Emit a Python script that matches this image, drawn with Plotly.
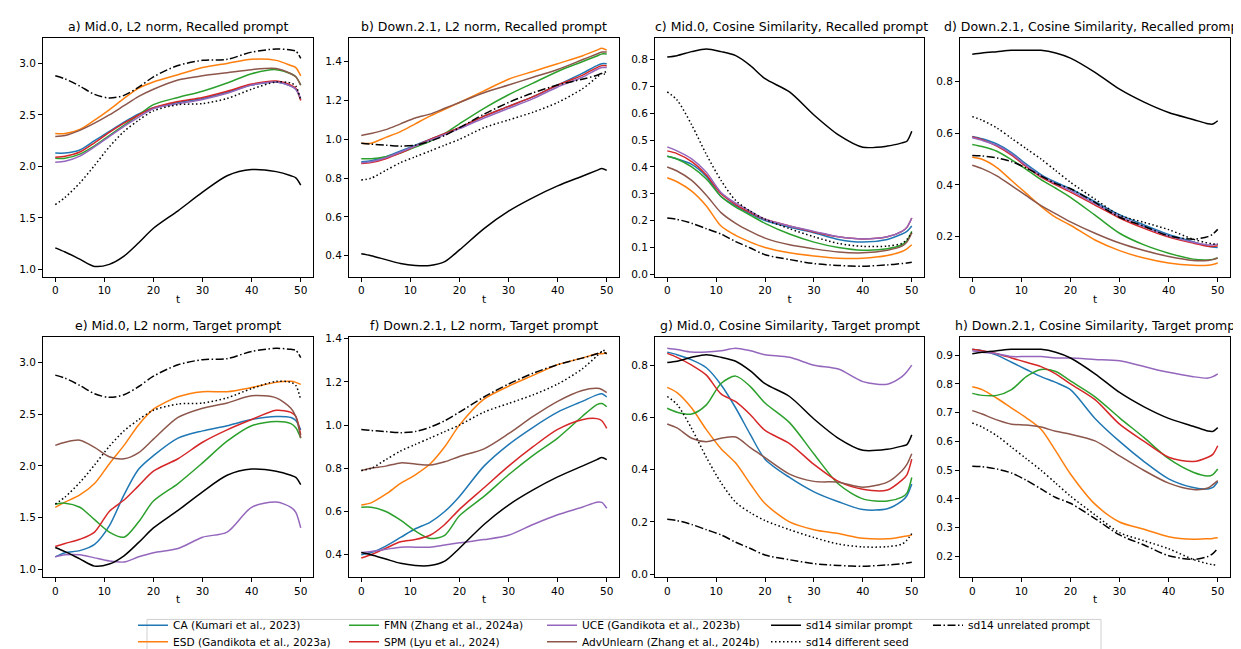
import plotly.graph_objects as go

# ---------------- data ----------------
T = [0, 2, 5, 8, 11, 14, 17, 20, 25, 30, 35, 40, 45, 48, 49, 50]

# Panel a) Mid.0, L2 norm, Recalled prompt
A_CA = [2.13, 2.13, 2.16, 2.25, 2.34, 2.43, 2.51, 2.57, 2.62, 2.66, 2.72, 2.79, 2.82, 2.78, 2.75, 2.65]
A_ESD = [2.32, 2.32, 2.36, 2.45, 2.55, 2.66, 2.76, 2.82, 2.89, 2.96, 3.00, 3.04, 3.03, 2.98, 2.96, 2.88]
A_FMN = [2.08, 2.08, 2.12, 2.20, 2.30, 2.40, 2.50, 2.60, 2.67, 2.73, 2.81, 2.90, 2.94, 2.90, 2.87, 2.79]
A_SPM = [2.09, 2.10, 2.14, 2.23, 2.33, 2.42, 2.50, 2.57, 2.63, 2.67, 2.73, 2.80, 2.83, 2.79, 2.76, 2.64]
A_UCE = [2.04, 2.05, 2.10, 2.19, 2.29, 2.39, 2.48, 2.56, 2.61, 2.65, 2.71, 2.79, 2.82, 2.78, 2.75, 2.66]
A_ADV = [2.29, 2.30, 2.35, 2.42, 2.50, 2.59, 2.68, 2.75, 2.84, 2.88, 2.91, 2.94, 2.95, 2.90, 2.87, 2.79]

# Panel e) Mid.0, L2 norm, Target prompt
E_CA = [1.12, 1.16, 1.18, 1.24, 1.42, 1.72, 1.97, 2.10, 2.27, 2.34, 2.39, 2.45, 2.48, 2.47, 2.44, 2.35]
E_ESD = [1.60, 1.65, 1.72, 1.83, 2.02, 2.20, 2.40, 2.55, 2.67, 2.72, 2.72, 2.76, 2.81, 2.82, 2.81, 2.79]
E_FMN = [1.63, 1.64, 1.60, 1.48, 1.36, 1.31, 1.46, 1.66, 1.83, 2.03, 2.24, 2.39, 2.43, 2.41, 2.37, 2.27]
E_SPM = [1.22, 1.25, 1.29, 1.36, 1.56, 1.67, 1.81, 1.95, 2.07, 2.23, 2.35, 2.45, 2.54, 2.52, 2.48, 2.30]
E_UCE = [1.12, 1.14, 1.14, 1.11, 1.08, 1.07, 1.12, 1.16, 1.20, 1.31, 1.36, 1.60, 1.65, 1.60, 1.55, 1.40]
E_ADV = [2.20, 2.23, 2.25, 2.18, 2.09, 2.07, 2.13, 2.26, 2.47, 2.56, 2.61, 2.68, 2.66, 2.56, 2.48, 2.27]

# Mid.0 L2 baselines
M_SIM = [1.21, 1.17, 1.10, 1.03, 1.05, 1.13, 1.26, 1.40, 1.57, 1.75, 1.91, 1.97, 1.95, 1.91, 1.89, 1.82]
M_DIFF = [1.63, 1.70, 1.84, 2.01, 2.19, 2.34, 2.45, 2.54, 2.60, 2.61, 2.66, 2.75, 2.82, 2.81, 2.78, 2.64]
M_UNREL = [2.88, 2.85, 2.78, 2.70, 2.665, 2.69, 2.77, 2.87, 2.98, 3.03, 3.04, 3.11, 3.14, 3.13, 3.12, 3.05]

# Panel b) Down.2.1, L2 norm, Recalled prompt
B_CA = [0.885, 0.89, 0.91, 0.94, 0.97, 1.00, 1.03, 1.06, 1.12, 1.17, 1.22, 1.28, 1.34, 1.38, 1.39, 1.39]
B_ESD = [0.98, 0.98, 1.01, 1.04, 1.08, 1.12, 1.155, 1.19, 1.25, 1.31, 1.35, 1.39, 1.43, 1.46, 1.47, 1.46]
B_FMN = [0.90, 0.90, 0.91, 0.93, 0.96, 0.99, 1.03, 1.08, 1.16, 1.23, 1.29, 1.35, 1.40, 1.43, 1.44, 1.44]
B_SPM = [0.875, 0.88, 0.90, 0.93, 0.965, 1.00, 1.03, 1.06, 1.12, 1.17, 1.22, 1.28, 1.33, 1.37, 1.38, 1.38]
B_UCE = [0.88, 0.885, 0.905, 0.935, 0.965, 0.995, 1.025, 1.055, 1.11, 1.16, 1.21, 1.27, 1.32, 1.36, 1.37, 1.37]
B_ADV = [1.02, 1.03, 1.05, 1.08, 1.11, 1.13, 1.16, 1.19, 1.24, 1.28, 1.32, 1.36, 1.41, 1.44, 1.45, 1.45]

# Panel f) Down.2.1, L2 norm, Target prompt
F_CA = [0.40, 0.41, 0.44, 0.48, 0.52, 0.55, 0.60, 0.67, 0.81, 0.91, 0.99, 1.06, 1.11, 1.14, 1.145, 1.13]
F_ESD = [0.63, 0.64, 0.68, 0.73, 0.77, 0.82, 0.90, 1.00, 1.12, 1.18, 1.23, 1.28, 1.31, 1.33, 1.33, 1.335]
F_FMN = [0.62, 0.62, 0.60, 0.56, 0.51, 0.475, 0.49, 0.58, 0.67, 0.77, 0.86, 0.94, 1.04, 1.095, 1.10, 1.085]
F_SPM = [0.385, 0.40, 0.43, 0.46, 0.47, 0.49, 0.54, 0.61, 0.71, 0.81, 0.90, 0.98, 1.025, 1.03, 1.02, 0.985]
F_UCE = [0.41, 0.415, 0.425, 0.435, 0.435, 0.435, 0.445, 0.455, 0.47, 0.49, 0.54, 0.585, 0.62, 0.643, 0.642, 0.615]
F_ADV = [0.79, 0.80, 0.81, 0.825, 0.82, 0.815, 0.83, 0.855, 0.89, 0.96, 1.04, 1.11, 1.16, 1.17, 1.165, 1.15]

# Down.2.1 L2 baselines
D_SIM = [0.41, 0.40, 0.38, 0.36, 0.35, 0.35, 0.37, 0.43, 0.54, 0.63, 0.70, 0.76, 0.81, 0.84, 0.85, 0.84]
D_DIFF = [0.79, 0.80, 0.84, 0.88, 0.91, 0.94, 0.97, 1.00, 1.06, 1.10, 1.14, 1.19, 1.26, 1.32, 1.34, 1.35]
D_UNREL = [0.98, 0.975, 0.97, 0.965, 0.97, 0.99, 1.02, 1.06, 1.13, 1.19, 1.24, 1.28, 1.31, 1.33, 1.34, 1.33]

# Panel c) Mid.0, Cosine Similarity, Recalled prompt
C_CA = [0.44, 0.43, 0.41, 0.365, 0.29, 0.255, 0.225, 0.20, 0.175, 0.155, 0.13, 0.12, 0.13, 0.15, 0.16, 0.18]
C_ESD = [0.36, 0.345, 0.31, 0.255, 0.18, 0.145, 0.12, 0.10, 0.08, 0.068, 0.06, 0.06, 0.07, 0.085, 0.095, 0.11]
C_FMN = [0.44, 0.43, 0.40, 0.355, 0.29, 0.25, 0.22, 0.19, 0.15, 0.12, 0.10, 0.09, 0.095, 0.11, 0.125, 0.16]
C_SPM = [0.46, 0.45, 0.42, 0.37, 0.30, 0.26, 0.23, 0.205, 0.18, 0.158, 0.14, 0.132, 0.14, 0.16, 0.175, 0.21]
C_UCE = [0.475, 0.46, 0.43, 0.38, 0.305, 0.265, 0.235, 0.205, 0.18, 0.16, 0.14, 0.132, 0.14, 0.16, 0.175, 0.21]
C_ADV = [0.40, 0.385, 0.35, 0.295, 0.23, 0.19, 0.16, 0.135, 0.11, 0.095, 0.083, 0.08, 0.09, 0.105, 0.12, 0.155]

# Panel g) Mid.0, Cosine Similarity, Target prompt
G_CA = [0.85, 0.84, 0.82, 0.79, 0.725, 0.636, 0.534, 0.44, 0.37, 0.315, 0.277, 0.247, 0.25, 0.28, 0.30, 0.345]
G_ESD = [0.715, 0.695, 0.636, 0.553, 0.48, 0.425, 0.345, 0.27, 0.20, 0.17, 0.155, 0.137, 0.135, 0.143, 0.146, 0.15]
G_FMN = [0.635, 0.62, 0.613, 0.648, 0.73, 0.758, 0.718, 0.655, 0.58, 0.46, 0.345, 0.288, 0.28, 0.295, 0.31, 0.37]
G_SPM = [0.845, 0.83, 0.80, 0.762, 0.69, 0.66, 0.61, 0.55, 0.50, 0.42, 0.355, 0.325, 0.322, 0.36, 0.38, 0.44]
G_UCE = [0.865, 0.86, 0.85, 0.85, 0.855, 0.865, 0.855, 0.84, 0.83, 0.80, 0.785, 0.737, 0.727, 0.756, 0.775, 0.80]
G_ADV = [0.575, 0.56, 0.52, 0.507, 0.52, 0.525, 0.484, 0.446, 0.383, 0.355, 0.352, 0.333, 0.352, 0.396, 0.42, 0.461]

# Mid.0 cosine baselines
MC_SIM = [0.81, 0.815, 0.83, 0.84, 0.83, 0.815, 0.778, 0.729, 0.68, 0.594, 0.52, 0.474, 0.478, 0.49, 0.496, 0.533]
MC_DIFF = [0.68, 0.65, 0.557, 0.447, 0.35, 0.275, 0.235, 0.205, 0.17, 0.14, 0.115, 0.104, 0.105, 0.115, 0.13, 0.155]
MC_UNREL = [0.21, 0.205, 0.19, 0.17, 0.15, 0.122, 0.098, 0.073, 0.055, 0.04, 0.033, 0.03, 0.035, 0.04, 0.042, 0.045]

# Panel d) Down.2.1, Cosine Similarity, Recalled prompt
D2_CA = [0.587, 0.578, 0.558, 0.525, 0.48, 0.44, 0.41, 0.385, 0.335, 0.285, 0.245, 0.208, 0.18, 0.163, 0.16, 0.158]
D2_ESD = [0.507, 0.499, 0.467, 0.417, 0.367, 0.317, 0.274, 0.244, 0.187, 0.146, 0.117, 0.098, 0.089, 0.089, 0.092, 0.098]
D2_FMN = [0.556, 0.548, 0.53, 0.497, 0.46, 0.42, 0.387, 0.352, 0.283, 0.213, 0.168, 0.136, 0.113, 0.11, 0.112, 0.117]
D2_SPM = [0.585, 0.575, 0.55, 0.515, 0.47, 0.43, 0.40, 0.372, 0.322, 0.272, 0.232, 0.198, 0.175, 0.163, 0.162, 0.165]
D2_UCE = [0.582, 0.572, 0.553, 0.52, 0.475, 0.435, 0.405, 0.378, 0.328, 0.278, 0.238, 0.203, 0.178, 0.168, 0.168, 0.172]
D2_ADV = [0.476, 0.463, 0.435, 0.397, 0.358, 0.32, 0.288, 0.257, 0.213, 0.175, 0.146, 0.123, 0.108, 0.108, 0.111, 0.117]

# Panel h) Down.2.1, Cosine Similarity, Target prompt
H_CA = [0.92, 0.915, 0.90, 0.875, 0.85, 0.825, 0.805, 0.78, 0.68, 0.60, 0.53, 0.47, 0.44, 0.435, 0.44, 0.46]
H_ESD = [0.79, 0.78, 0.75, 0.716, 0.682, 0.642, 0.567, 0.487, 0.382, 0.32, 0.295, 0.269, 0.26, 0.262, 0.263, 0.265]
H_FMN = [0.767, 0.76, 0.76, 0.78, 0.825, 0.85, 0.843, 0.81, 0.755, 0.682, 0.613, 0.54, 0.493, 0.48, 0.485, 0.504]
H_SPM = [0.92, 0.915, 0.905, 0.89, 0.875, 0.86, 0.835, 0.80, 0.745, 0.66, 0.60, 0.545, 0.53, 0.545, 0.555, 0.585]
H_UCE = [0.915, 0.91, 0.905, 0.895, 0.895, 0.895, 0.89, 0.89, 0.885, 0.88, 0.86, 0.84, 0.825, 0.82, 0.825, 0.835]
H_ADV = [0.707, 0.695, 0.675, 0.66, 0.657, 0.65, 0.635, 0.625, 0.602, 0.55, 0.499, 0.455, 0.433, 0.438, 0.45, 0.464]

# Down.2.1 cosine baselines
DC_SIM = [0.905, 0.91, 0.915, 0.92, 0.92, 0.92, 0.91, 0.89, 0.835, 0.77, 0.72, 0.68, 0.653, 0.636, 0.635, 0.648]
DC_DIFF = [0.664, 0.65, 0.62, 0.58, 0.54, 0.50, 0.455, 0.41, 0.345, 0.283, 0.255, 0.227, 0.19, 0.175, 0.172, 0.17]
DC_UNREL = [0.514, 0.512, 0.504, 0.49, 0.465, 0.435, 0.405, 0.385, 0.332, 0.275, 0.24, 0.203, 0.19, 0.20, 0.21, 0.228]

METHOD_NAMES = ["CA (Kumari et al., 2023)", "ESD (Gandikota et al., 2023a)",
                "FMN (Zhang et al., 2024a)", "SPM (Lyu et al., 2024)",
                "UCE (Gandikota et al., 2023b)", "AdvUnlearn (Zhang et al., 2024b)"]
BASE_NAMES = ["sd14 similar prompt", "sd14 different seed", "sd14 unrelated prompt"]
TITLES = ["a) Mid.0, L2 norm, Recalled prompt", "b) Down.2.1, L2 norm, Recalled prompt",
          "c) Mid.0, Cosine Similarity, Recalled prompt", "d) Down.2.1, Cosine Similarity, Recalled prompt",
          "e) Mid.0, L2 norm, Target prompt", "f) Down.2.1, L2 norm, Target prompt",
          "g) Mid.0, Cosine Similarity, Target prompt", "h) Down.2.1, Cosine Similarity, Target prompt"]
X_TICKS = [0, 10, 20, 30, 40, 50]

# ---------------- styling ----------------
COLORS = ["#1f77b4", "#ff7f0e", "#2ca02c", "#d62728", "#9467bd", "#8c564b"]
BASE_DASH = ["solid", "1.5px,2.5px", "8px,2.5px,1.5px,2.5px"]

W, H = 1241, 649
COLS_PX = [(35, 305), (341, 611), (647, 916), (952, 1222)]
ROWS_PX = [(25, 267), (328, 571)]
# (x position in px, anchor) of each panel title
TITLE_POS = [(170, "center"), (476, "center"), (783, "center"), (1237, "right"),
             (170, "center"), (476, "center"), (781.5, "center"), (1234, "right")]
Y_RANGES = [[0.93, 3.25], [0.292, 1.524], [-0.009, 0.882], [0.045, 0.969],
            [0.925, 3.25], [0.297, 1.408], [-0.011, 0.908], [0.129, 0.963]]
Y_DTICK = [0.5, 0.2, 0.1, 0.2, 0.5, 0.2, 0.2, 0.1]

# legend entry positions (text start x, row centre y) in pixels, matplotlib ncol=5 order
LEG_TEXT_X = [173, 173, 384, 384, 582, 582, 806, 806, 968]
LEG_ROW_Y = [620, 636.5, 620, 636.5, 620, 636.5, 620, 636.5, 620]

panels = [
    ([A_CA, A_ESD, A_FMN, A_SPM, A_UCE, A_ADV], [M_SIM, M_DIFF, M_UNREL]),
    ([B_CA, B_ESD, B_FMN, B_SPM, B_UCE, B_ADV], [D_SIM, D_DIFF, D_UNREL]),
    ([C_CA, C_ESD, C_FMN, C_SPM, C_UCE, C_ADV], [MC_SIM, MC_DIFF, MC_UNREL]),
    ([D2_CA, D2_ESD, D2_FMN, D2_SPM, D2_UCE, D2_ADV], [DC_SIM, DC_DIFF, DC_UNREL]),
    ([E_CA, E_ESD, E_FMN, E_SPM, E_UCE, E_ADV], [M_SIM, M_DIFF, M_UNREL]),
    ([F_CA, F_ESD, F_FMN, F_SPM, F_UCE, F_ADV], [D_SIM, D_DIFF, D_UNREL]),
    ([G_CA, G_ESD, G_FMN, G_SPM, G_UCE, G_ADV], [MC_SIM, MC_DIFF, MC_UNREL]),
    ([H_CA, H_ESD, H_FMN, H_SPM, H_UCE, H_ADV], [DC_SIM, DC_DIFF, DC_UNREL]),
]

FONT = "DejaVu Sans"
fig = go.Figure()
layout = dict(
    width=W, height=H, margin=dict(l=0, r=0, t=0, b=0),
    paper_bgcolor="white", plot_bgcolor="white",
    font=dict(family=FONT, size=10.5, color="black"),
    annotations=[], shapes=[],
)


def legend_key(k):
    return "legend" if k == 0 else "legend" + str(k + 1)


for p, (methods, bases) in enumerate(panels):
    r, c = divmod(p, 4)
    idx = "" if p == 0 else str(p + 1)
    xa, ya = "x" + idx, "y" + idx
    for m, ys in enumerate(methods):
        fig.add_trace(go.Scatter(
            x=T, y=ys, mode="lines", name=METHOD_NAMES[m],
            line=dict(color=COLORS[m], width=1.5, shape="spline", smoothing=0.8),
            xaxis=xa, yaxis=ya, showlegend=(p == 0), legend=legend_key(m)))
    for b, ys in enumerate(bases):
        fig.add_trace(go.Scatter(
            x=T, y=ys, mode="lines", name=BASE_NAMES[b],
            line=dict(color="black", width=1.5, dash=BASE_DASH[b], shape="spline", smoothing=0.8),
            xaxis=xa, yaxis=ya, showlegend=(p == 0), legend=legend_key(6 + b)))
    x0, x1 = COLS_PX[c]
    y0, y1 = ROWS_PX[r]
    axcommon = dict(showline=True, mirror=True, linecolor="black", linewidth=1,
                    ticks="outside", ticklen=4, tickwidth=1, tickcolor="black",
                    showgrid=False, zeroline=False, tickfont=dict(size=10.5, family=FONT))
    layout["xaxis" + idx] = dict(domain=[x0 / W, x1 / W], range=[-2.5, 52.5],
                                 tickvals=X_TICKS, anchor=ya,
                                 title=dict(text="t", font=dict(size=10.5), standoff=0),
                                 **axcommon)
    layout["yaxis" + idx] = dict(domain=[1 - y1 / H, 1 - y0 / H], range=Y_RANGES[p],
                                 dtick=Y_DTICK[p], tick0=0, tickformat=".1f", anchor=xa,
                                 **axcommon)
    tx, anchor = TITLE_POS[p]
    layout["annotations"].append(dict(
        text=TITLES[p], x=tx / W, y=1 - y0 / H, xref="paper", yref="paper",
        xanchor=anchor, yanchor="bottom", yshift=2, showarrow=False,
        font=dict(size=12.5, family=FONT)))

for k in range(9):
    layout[legend_key(k)] = dict(
        x=(LEG_TEXT_X[k] - 48) / W, xanchor="left", y=1 - LEG_ROW_Y[k] / H, yanchor="middle",
        bgcolor="rgba(0,0,0,0)", borderwidth=0, orientation="v", itemwidth=30,
        font=dict(size=10.6, family=FONT))

layout["shapes"].append(dict(type="rect", xref="paper", yref="paper",
                             x0=139 / W, x1=1093 / W, y0=1 - 648 / H, y1=1 - 614 / H,
                             line=dict(color="#d0d0d0", width=1)))

fig.update_layout(**layout)
fig.write_html("out.html")
